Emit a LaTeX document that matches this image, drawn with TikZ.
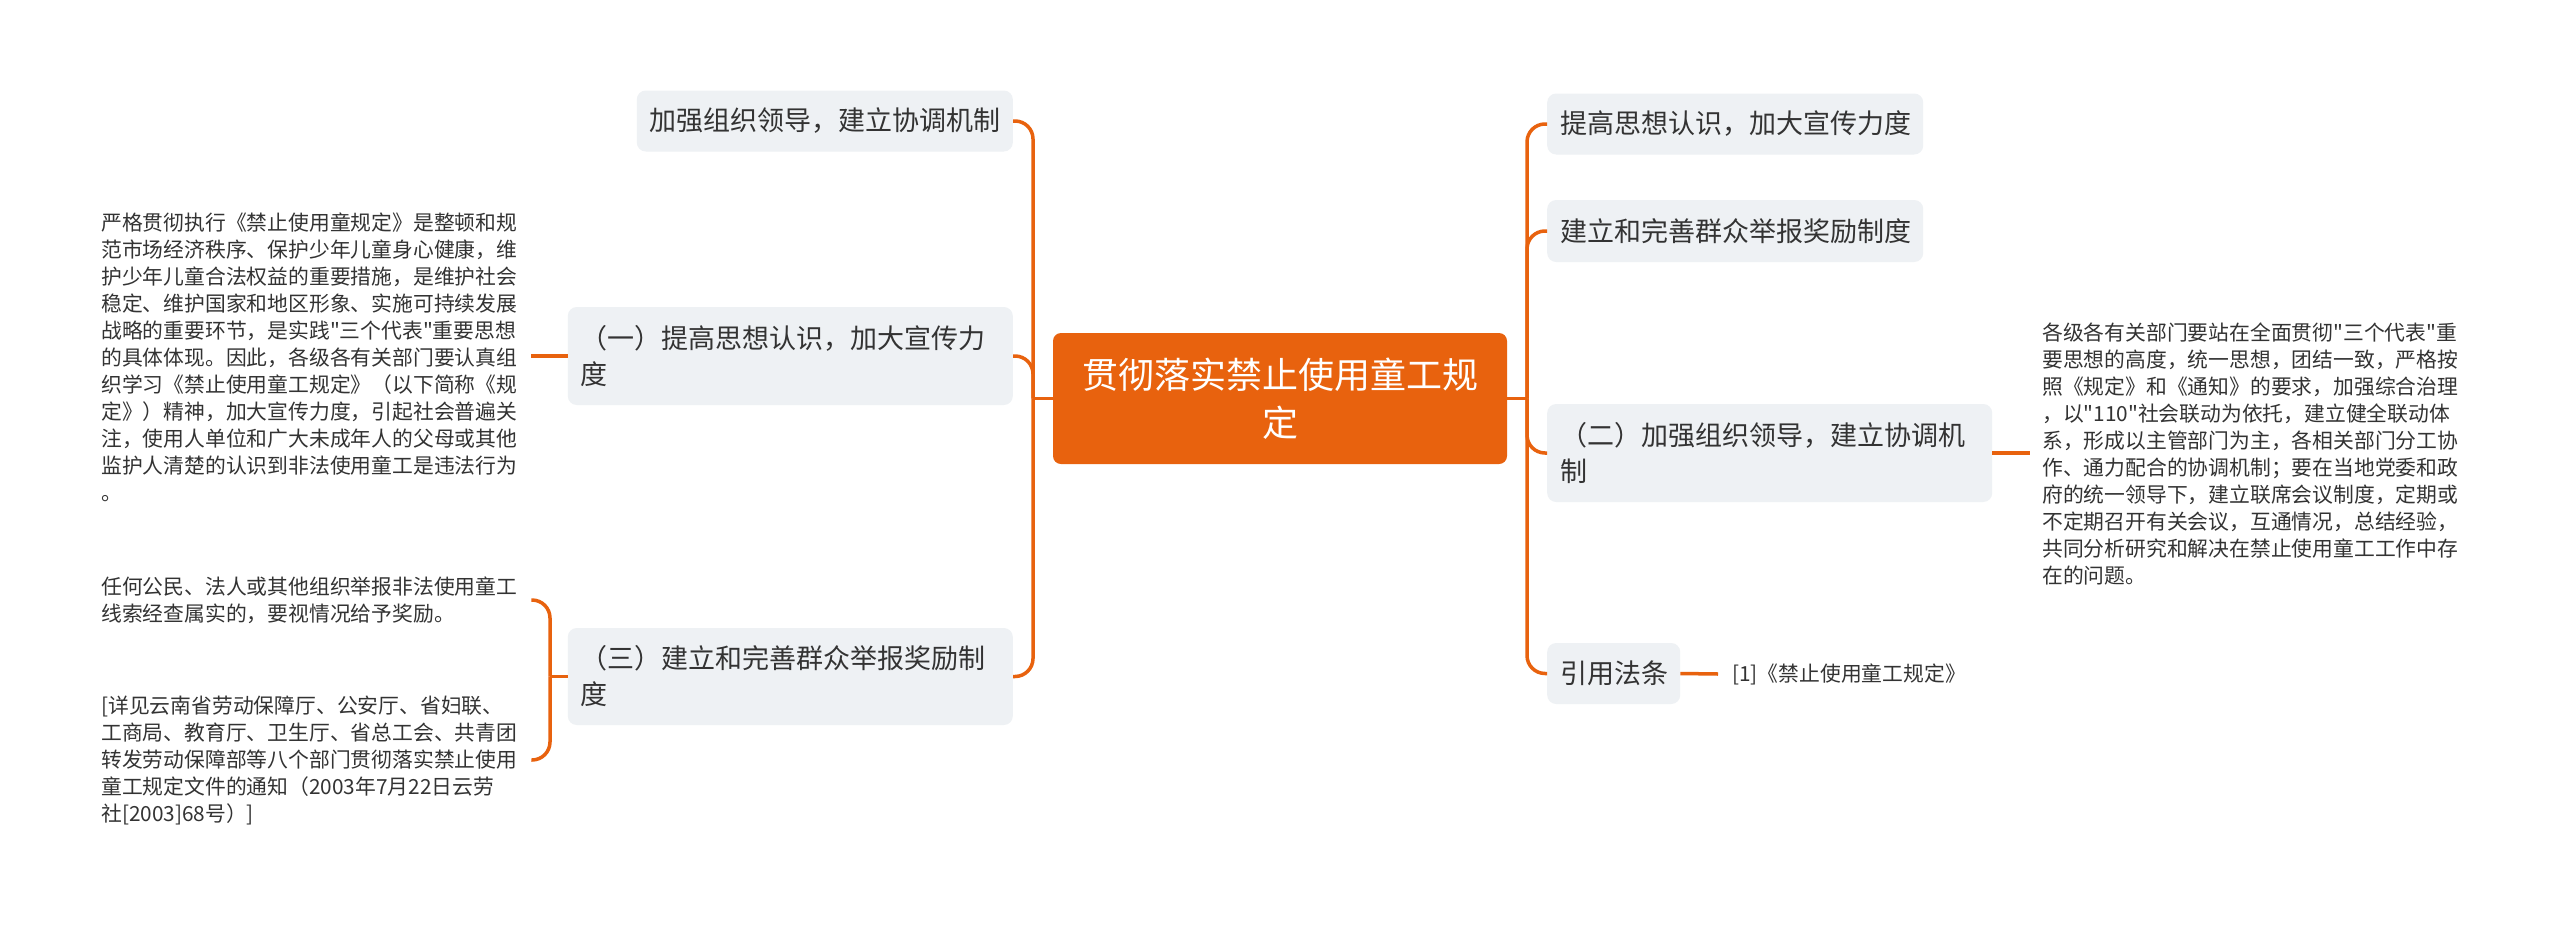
\documentclass[tikz,border=0pt]{standalone}
\usepackage{fontspec}
\newfontfamily\cjkfont{Noto Sans CJK SC}
\usetikzlibrary{calc}
\definecolor{org}{HTML}{E8620E}
\definecolor{boxfill}{HTML}{EEF1F4}
\definecolor{txt}{HTML}{333333}
\tikzset{
  central/.style={fill=org, rounded corners=8pt, text=white, font=\cjkfont\fontsize{36}{48}\selectfont, align=center, inner sep=0pt, minimum width=454pt, minimum height=131pt},
  topic/.style={fill=boxfill, rounded corners=9pt, text=txt, font=\cjkfont\fontsize{27}{36}\selectfont, align=left, inner xsep=13pt, inner ysep=0pt},
  para/.style={text=txt, font=\cjkfont\fontsize{20.8}{27}\selectfont, align=left, inner xsep=12pt, inner ysep=0pt, anchor=west},
  link/.style={draw=org, line width=3.5pt},
  curvelink/.style={link, rounded corners=18pt}
}
\begin{document}
\begin{tikzpicture}[x=1pt, y=-1pt]
\useasboundingbox[fill=white] (0,0) rectangle (2560,924);

% central
\node[central] (c) at (1280,398.5) {贯彻落实禁止使用童工规\\定};

% left topics
\node[topic, anchor=east, text width=350pt, minimum height=61pt] (t1) at (1013,121) {加强组织领导，建立协调机制};
\node[topic, anchor=east, text width=419pt, minimum height=98pt] (t2) at (1013,356) {（一）提高思想认识，加大宣传力\\度};
\node[topic, anchor=east, text width=419pt, minimum height=97pt] (t3) at (1013,676.5) {（三）建立和完善群众举报奖励制\\度};

% right topics
\node[topic, anchor=west, text width=350pt, minimum height=61pt] (r1) at (1547,124) {提高思想认识，加大宣传力度};
\node[topic, anchor=west, text width=350pt, minimum height=62pt] (r2) at (1547,231) {建立和完善群众举报奖励制度};
\node[topic, anchor=west, text width=419pt, minimum height=98pt] (r3) at (1547,453) {（二）加强组织领导，建立协调机\\制};
\node[topic, anchor=west, text width=107pt, minimum height=61pt] (r4) at (1547,673.5) {引用法条};

% paragraphs
\node[para, text width=418pt] (p1) at (89,357) {严格贯彻执行《禁止使用童规定》是整顿和规\\范市场经济秩序、保护少年儿童身心健康，维\\护少年儿童合法权益的重要措施，是维护社会\\稳定、维护国家和地区形象、实施可持续发展\\战略的重要环节，是实践"三个代表"重要思想\\的具体体现。因此，各级各有关部门要认真组\\织学习《禁止使用童工规定》（以下简称《规\\定》）精神，加大宣传力度，引起社会普遍关\\注，使用人单位和广大未成年人的父母或其他\\监护人清楚的认识到非法使用童工是违法行为\\。};
\node[para, text width=418pt] (p2) at (89,600) {任何公民、法人或其他组织举报非法使用童工\\线索经查属实的，要视情况给予奖励。};
\node[para, text width=418pt] (p3) at (89,760) {[详见云南省劳动保障厅、公安厅、省妇联、\\工商局、教育厅、卫生厅、省总工会、共青团\\转发劳动保障部等八个部门贯彻落实禁止使用\\童工规定文件的通知（2003年7月22日云劳\\社[2003]68号）]};
\node[para, text width=418pt] (rp) at (2030,453.5) {各级各有关部门要站在全面贯彻"三个代表"重\\要思想的高度，统一思想，团结一致，严格按\\照《规定》和《通知》的要求，加强综合治理\\，以"110"社会联动为依托，建立健全联动体\\系，形成以主管部门为主，各相关部门分工协\\作、通力配合的协调机制；要在当地党委和政\\府的统一领导下，建立联席会议制度，定期或\\不定期召开有关会议，互通情况，总结经验，\\共同分析研究和解决在禁止使用童工工作中存\\在的问题。};
\node[para, inner xsep=14pt] (ct) at (1718,674) {[1]《禁止使用童工规定》};

% connectors
\coordinate (L) at (1033,398.5);
\coordinate (R) at (1527,398.5);
\coordinate (B) at (550,676.5);
\draw[link] (c.west) -- (L);
\draw[link] (c.east) -- (R);
\draw[curvelink] (L) |- (t1.east);
\draw[curvelink] (L) |- (t2.east);
\draw[curvelink] (L) |- (t3.east);
\draw[curvelink] (R) |- (r1.west);
\draw[curvelink] (R) |- (r2.west);
\draw[curvelink] (R) |- (r3.west);
\draw[curvelink] (R) |- (r4.west);
\draw[link] (t2.west) -- (t2.west -| p1.east);
\draw[link] (t3.west) -- (B);
\draw[curvelink] (B) |- (p2.east);
\draw[curvelink] (B) |- (p3.east);
\draw[link] (r3.east) -- (r3.east -| rp.west);
\draw[link] (r4.east) -- (ct.west);
\end{tikzpicture}
\end{document}
